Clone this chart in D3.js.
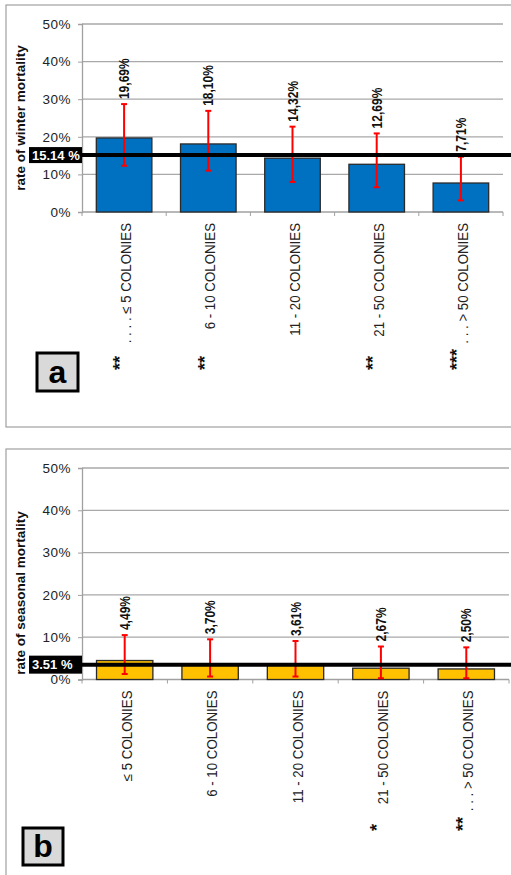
<!DOCTYPE html>
<html>
<head>
<meta charset="utf-8">
<script src="https://cdn.jsdelivr.net/npm/d3@7"></script>
<style>
  html, body { margin: 0; padding: 0; background: #fff; }
  svg { display: block; font-family: "Liberation Sans", Arial, sans-serif; }
</style>
</head>
<body>
<svg id="chart" width="511" height="875"></svg>
<script>
// Colony-size classes shared by both panels
const categories = ["≤ 5 COLONIES", "6 - 10 COLONIES", "11 - 20 COLONIES", "21 - 50 COLONIES", "> 50 COLONIES"];
const yTicks = [0, 10, 20, 30, 40, 50];

// Panel a: winter mortality (%)
const winterValues = [19.69, 18.10, 14.32, 12.69, 7.71];
const winterErrLow = [12.3, 11.0, 8.0, 6.6, 3.1];
const winterErrHigh = [28.7, 26.9, 22.7, 20.9, 14.7];
const winterMean = 15.14;
const winterDots = [". . . .", "", "", "", ". . ."];
const winterStars = ["**", "**", "", "**", "***"];

// Panel b: seasonal mortality (%)
const seasonalValues = [4.49, 3.70, 3.61, 2.67, 2.50];
const seasonalErrLow = [1.3, 0.7, 0.7, 0.3, 0.3];
const seasonalErrHigh = [10.5, 9.5, 9.1, 7.8, 7.6];
const seasonalMean = 3.51;
const seasonalDots = ["", "", "", "", ". . ."];
const seasonalStars = ["", "", "", "*", "**"];

const svg = d3.select("#chart");
const fmtComma = v => v.toFixed(2).replace(".", ",") + "%";

function drawPanel(p) {
  const g = svg.append("g");

  // panel frame (runs past the right and bottom edges)
  g.append("rect")
    .attr("x", p.frame[0]).attr("y", p.frame[1])
    .attr("width", p.frame[2]).attr("height", p.frame[3])
    .attr("fill", "none").attr("stroke", "#a0a0a0").attr("stroke-width", 1.2);

  const x = d3.scaleBand().domain(d3.range(categories.length))
    .range([p.left, p.right]).paddingInner(0.34).paddingOuter(0.17);
  const xt = d3.scaleBand().domain(d3.range(categories.length))
    .range([p.left, p.right]).padding(0);
  const y = d3.scaleLinear().domain([0, 50]).range([p.bottom, p.top]);
  const cx = i => xt(i) + xt.bandwidth() / 2;

  // gridlines
  g.append("g").selectAll("line").data(yTicks.filter(t => t > 0)).join("line")
    .attr("x1", p.left).attr("x2", p.right)
    .attr("y1", d => y(d)).attr("y2", d => y(d))
    .attr("stroke", "#a8a8a8").attr("stroke-width", 1.3);

  // y axis
  const ya = g.append("g").attr("transform", `translate(${p.left},0)`)
    .call(d3.axisLeft(y).tickValues(yTicks).tickFormat(d => d + "%").tickSize(4).tickPadding(7));
  ya.select(".domain").attr("stroke", "#a0a0a0").attr("stroke-width", 1.3);
  ya.selectAll(".tick line").attr("stroke", "#a0a0a0");
  ya.selectAll(".tick text").attr("font-size", 13.5).attr("fill", "#222")
    .attr("letter-spacing", 0.5).attr("font-family", "Liberation Sans, Arial, sans-serif");

  // x axis baseline with category ticks
  const xa = g.append("g").attr("transform", `translate(0,${p.bottom})`);
  xa.append("line").attr("x1", p.left).attr("x2", p.right)
    .attr("stroke", "#a0a0a0").attr("stroke-width", 1.3);
  const edges = categories.map((c, i) => xt(i)).concat([p.right]);
  xa.selectAll("line.tk").data(edges).join("line").attr("class", "tk")
    .attr("x1", d => d).attr("x2", d => d).attr("y1", 0).attr("y2", 4)
    .attr("stroke", "#a0a0a0");

  // bars
  g.append("g").selectAll("rect").data(p.values).join("rect")
    .attr("x", (d, i) => x(i)).attr("width", x.bandwidth())
    .attr("y", d => y(d)).attr("height", d => y(0) - y(d))
    .attr("fill", p.fill).attr("stroke", "#2a2a2a").attr("stroke-width", 1.3);

  // error bars
  const eb = g.append("g").attr("stroke", "#ff0000").attr("stroke-width", 2);
  p.values.forEach((v, i) => {
    eb.append("line").attr("x1", cx(i)).attr("x2", cx(i)).attr("y1", y(p.errLow[i])).attr("y2", y(p.errHigh[i]));
    eb.append("line").attr("x1", cx(i) - 3).attr("x2", cx(i) + 3).attr("y1", y(p.errLow[i])).attr("y2", y(p.errLow[i]));
    eb.append("line").attr("x1", cx(i) - 3).attr("x2", cx(i) + 3).attr("y1", y(p.errHigh[i])).attr("y2", y(p.errHigh[i]));
  });

  // value labels (slightly condensed bold)
  g.append("g").selectAll("text").data(p.values).join("text")
    .attr("transform", (d, i) => `translate(${cx(i)},${y(p.errHigh[i]) - 5}) rotate(-90) scale(0.86,1)`)
    .attr("dy", "0.36em").attr("font-size", 14).attr("font-weight", "bold").attr("fill", "#111")
    .text(d => fmtComma(d));

  // mean line and its label
  g.append("line").attr("x1", p.left).attr("x2", 515)
    .attr("y1", y(p.mean)).attr("y2", y(p.mean))
    .attr("stroke", "#000").attr("stroke-width", 4);
  g.append("rect").attr("x", 29).attr("y", y(p.mean) - p.boxH / 2)
    .attr("width", p.left - 29).attr("height", p.boxH).attr("fill", "#000");
  g.append("text").attr("x", 32).attr("y", y(p.mean)).attr("dy", "0.36em")
    .attr("font-size", 13).attr("font-weight", "bold").attr("fill", "#fff")
    .text(p.mean.toFixed(2) + " %");

  // category labels
  g.append("g").selectAll("text").data(categories).join("text")
    .attr("transform", (d, i) => `translate(${cx(i) + 2},${p.bottom + 11}) rotate(-90) scale(0.95,1)`)
    .attr("text-anchor", "end").attr("dy", "0.36em")
    .attr("font-size", 14).attr("fill", "#222")
    .text((d, i) => (p.dots[i] ? p.dots[i] + "  " : "") + d);

  // significance stars
  g.append("g").selectAll("text").data(p.stars).join("text")
    .attr("transform", (d, i) => `translate(${cx(i) - 8},${p.starBase}) rotate(-90)`)
    .attr("dy", "0.57em").attr("font-size", 18).attr("font-weight", "bold").attr("fill", "#111")
    .text(d => d);

  // y axis title
  g.append("text")
    .attr("transform", `translate(20,${p.titleY}) rotate(-90)`)
    .attr("text-anchor", "middle").attr("dy", "0.36em")
    .attr("font-size", 13.5).attr("font-weight", "bold").attr("fill", "#111")
    .text(p.title);

  // panel letter
  const b = p.letterBox;
  g.append("rect").attr("x", b[0]).attr("y", b[1]).attr("width", b[2]).attr("height", b[3])
    .attr("fill", "#d9d9d9").attr("stroke", "#000").attr("stroke-width", 3);
  g.append("text").attr("x", b[0] + b[2] / 2).attr("y", b[1] + b[3] / 2).attr("dy", "0.33em")
    .attr("text-anchor", "middle").attr("font-size", 32).attr("font-weight", "bold").attr("fill", "#000")
    .text(p.letter);
}

drawPanel({
  frame: [6, 5, 520, 422], left: 82, right: 503, top: 24, bottom: 212,
  values: winterValues, errLow: winterErrLow, errHigh: winterErrHigh, mean: winterMean,
  dots: winterDots, stars: winterStars, starBase: 370, fill: "#0070c0", boxH: 16,
  title: "rate of winter mortality", titleY: 118, letter: "a", letterBox: [37, 353, 41, 38]
});

drawPanel({
  frame: [6, 449, 520, 440], left: 82, right: 509, top: 468, bottom: 679.5,
  values: seasonalValues, errLow: seasonalErrLow, errHigh: seasonalErrHigh, mean: seasonalMean,
  dots: seasonalDots, stars: seasonalStars, starBase: 831, fill: "#ffc000", boxH: 18,
  title: "rate of seasonal mortality", titleY: 593, letter: "b", letterBox: [23, 828, 40, 37]
});
</script>
</body>
</html>
